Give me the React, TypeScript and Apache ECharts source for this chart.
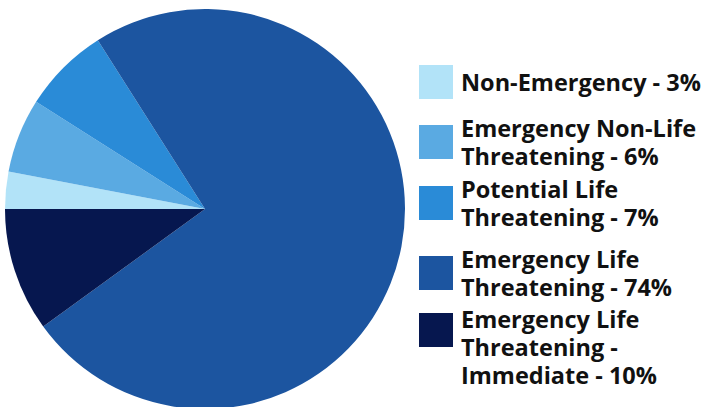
import React, { useEffect, useRef } from "react";
import * as echarts from "echarts";

const categories = [
  "Non-Emergency",
  "Emergency Non-Life Threatening",
  "Potential Life Threatening",
  "Emergency Life Threatening",
  "Emergency Life Threatening - Immediate",
];
const values = [3, 6, 7, 74, 10];
const legendLabels = [
  "Non-Emergency - 3%",
  "Emergency Non-Life\nThreatening - 6%",
  "Potential Life\nThreatening - 7%",
  "Emergency Life\nThreatening - 74%",
  "Emergency Life\nThreatening -\nImmediate - 10%",
];
const colors = ["#b2e3f8", "#5aaae2", "#2a8bd7", "#1c55a0", "#06174f"];

export default function App() {
  const ref = useRef<HTMLDivElement>(null);
  useEffect(() => {
    document.body.style.margin = "0";
    const chart = echarts.init(ref.current!, null, { renderer: "svg" });
    const textStyle = {
      fontFamily: "Open Sans",
      fontWeight: "bold",
      fontSize: 23.5,
      lineHeight: 28,
      color: "#111111",
      padding: [0, 0, 0, 3],
    };
    const base = {
      left: 419,
      padding: 0,
      itemWidth: 34,
      itemHeight: 34,
      icon: "rect",
      selectedMode: false,
      textStyle,
    };
    const legendTops = [65, 114, 175, 245];
    const legends: any[] = legendTops.map((top, i) => ({
      ...base,
      top,
      data: [categories[i]],
      formatter: () => legendLabels[i],
    }));
    // last item: icon aligned with first two text lines
    legends.push({
      ...base,
      top: 313,
      data: [categories[4]],
      formatter: () => "",
    });
    legends.push({
      ...base,
      top: 305,
      data: [{ name: categories[4], itemStyle: { opacity: 0 } }],
      formatter: () => legendLabels[4],
    });
    chart.setOption({
      animation: false,
      color: colors,
      legend: legends,
      series: [
        {
          type: "pie",
          center: [205, 209],
          radius: 200,
          startAngle: 180,
          clockwise: true,
          label: { show: false },
          labelLine: { show: false },
          emphasis: { disabled: true },
          itemStyle: { borderWidth: 0 },
          data: categories.map((name, i) => ({ name, value: values[i] })),
        },
      ],
    });
    return () => chart.dispose();
  }, []);
  return <div ref={ref} style={{ width: 705, height: 407 }} />;
}
